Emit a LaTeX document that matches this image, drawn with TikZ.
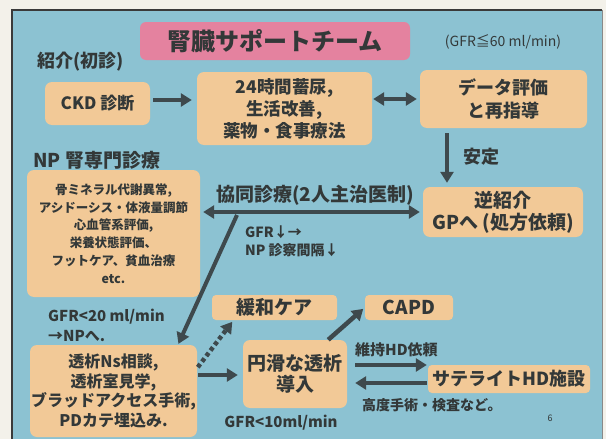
\documentclass[tikz,border=0pt]{standalone}
\usepackage{fontspec}
\setmainfont{Noto Sans CJK JP}
\usetikzlibrary{arrows.meta}
\definecolor{bgc}{HTML}{F3F1EA}
\definecolor{panelc}{HTML}{8CC2D2}
\definecolor{boxc}{HTML}{F2C997}
\definecolor{pinkc}{HTML}{E4829F}
\definecolor{txtc}{HTML}{333838}
\definecolor{arrc}{HTML}{3E494D}
\definecolor{edgec}{HTML}{3A3A3A}
\newcommand\fsz[2]{\fontsize{#1}{#2}\selectfont}
\begin{document}
\begin{tikzpicture}[x=1pt,y=-1pt,
 box/.style={fill=boxc, rounded corners=7pt, inner sep=0pt, text=txtc, align=center},
 lbl/.style={inner sep=0pt, text=txtc},
 arr/.style={draw=arrc, line width=4.5pt, -{Triangle[length=11pt,width=13pt]}},
 darr/.style={draw=arrc, line width=4.5pt, {Triangle[length=11pt,width=13pt]}-{Triangle[length=11pt,width=13pt]}},
]
\path[use as bounding box] (0,0) rectangle (606,439);
\fill[bgc] (0,0) rectangle (606,439);
\fill[panelc] (12,10) rectangle (602,439);
\draw[edgec, line width=1.5pt] (12,439) -- (12,10) -- (602,10);
\draw[edgec!60, line width=1pt] (602,10) -- (602,439);

% boxes
\node[box, fill=pinkc, minimum width=270pt, minimum height=38pt, rounded corners=6pt, font=\bfseries\fsz{24}{28}] (title) at (275,41) {腎臓サポートチーム};
\node[box, minimum width=105pt, minimum height=43pt, font=\bfseries\fsz{17}{20}] (ckd) at (97.5,103.5) {CKD 診断};
\node[box, minimum width=175pt, minimum height=73pt, font=\bfseries\fsz{17.5}{22}] (h24) at (284.5,108.5) {24時間蓄尿,\\生活改善,\\薬物・食事療法};
\node[box, minimum width=167pt, minimum height=58pt, font=\bfseries\fsz{18}{23}] (data) at (503.5,99) {データ評価\\と再指導};
\node[box, minimum width=173pt, minimum height=127pt, font=\bfseries\fsz{12.5}{17.8}] (np) at (113.5,233.5) {骨ミネラル代謝異常,\\アシドーシス・体液量調節\\心血管系評価,\\栄養状態評価、\\フットケア、貧血治療\\etc.};
\node[box, minimum width=160pt, minimum height=50pt, font=\bfseries\fsz{19}{22}] (gp) at (503,212) {逆紹介\\GPへ (処方依頼)};
\node[box, minimum width=167pt, minimum height=92pt, font=\bfseries\fsz{16}{19.5}] (bl) at (113.5,391) {透析Ns相談,\\透析室見学,\\ブラッドアクセス手術,\\PDカテ埋込み.};
\node[box, minimum width=125pt, minimum height=25pt, rounded corners=4pt, font=\bfseries\fsz{19}{22}] (kanwa) at (274.5,307.5) {緩和ケア};
\node[box, minimum width=88pt, minimum height=25pt, rounded corners=4pt, font=\bfseries\fsz{19}{22}] (capd) at (409,307.5) {CAPD};
\node[box, minimum width=104pt, minimum height=68pt, font=\bfseries\fsz{19}{20.5}] (enk) at (295,374) {円滑な透析\\導入};
\node[box, minimum width=162pt, minimum height=28pt, rounded corners=4pt, font=\bfseries\fsz{18}{22}] (sat) at (509,379) {サテライトHD施設};

% labels
\node[lbl, font=\fsz{14}{16}] (gfr60) at (503,42) {(GFR≦60 ml/min)};
\node[lbl, anchor=west, font=\bfseries\fsz{18}{20}] (shokai) at (37,62) {紹介(初診)};
\node[lbl, anchor=west, font=\bfseries\fsz{19}{21}] (npt) at (33,160) {NP 腎専門診療};
\node[lbl, anchor=west, font=\bfseries\fsz{18}{20}] (antei) at (463,157) {安定};
\node[lbl, font=\bfseries\fsz{19}{21}] (kyodo) at (315,195) {協同診療(2人主治医制)};
\node[lbl, anchor=west, align=left, font=\bfseries\fsz{14}{18}] (gfrd) at (245,241) {GFR↓→\\NP 診察間隔↓};
\node[lbl, anchor=west, align=left, font=\bfseries\fsz{15}{20}] (gfr20) at (48,325) {GFR<20 ml/min\\→NPへ.};
\node[lbl, font=\bfseries\fsz{15}{17}] (gfr10) at (281,423) {GFR<10ml/min};
\node[lbl, anchor=west, font=\bfseries\fsz{15}{17}] (iji) at (355,350) {維持HD依頼};
\node[lbl, anchor=west, font=\bfseries\fsz{14}{16}] (kodo) at (362,405) {高度手術・検査など。};
\node[lbl, font=\fsz{9}{10}] (pg) at (550,418) {6};

% connectors
\draw[arr, shorten <=3pt, shorten >=5pt] ([yshift=3.5pt]ckd.east) -- ([yshift=3.5pt]ckd.east -| h24.west);
\draw[darr, shorten <=1pt, shorten >=3pt] (data.west -| h24.east) -- (data.west);
\draw[arr, shorten <=5pt, shorten >=4pt] ([xshift=-56.5pt]data.south) -- ([xshift=-56.5pt]data.south |- gp.north);
\draw[darr, shorten <=3pt, shorten >=3pt] (gp.west -| np.east) -- (gp.west);
\coordinate (dstart) at (237,215);
\draw[arr, line width=4pt, shorten >=1pt] (dstart) -- ([xshift=64.5pt]bl.north);
\draw[arr, dash pattern=on 4pt off 3pt, shorten <=1pt, shorten >=2pt] ([yshift=23pt]bl.east) -- ([xshift=-41pt]kanwa.south);
\draw[arr, shorten <=1pt, shorten >=5pt] ([yshift=16pt]bl.east) -- ([yshift=16pt]bl.east -| enk.west);
\draw[arr, shorten >=2pt] ([xshift=-19pt]enk.north east) -- (capd.west);
\draw[arr, shorten <=8pt, shorten >=1pt] ([yshift=9pt]enk.east) -- ([yshift=9pt]enk.east -| sat.west);
\draw[arr, shorten <=1pt, shorten >=8pt] ([yshift=-9pt]enk.east -| sat.west) -- ([yshift=-9pt]enk.east);
\end{tikzpicture}
\end{document}
